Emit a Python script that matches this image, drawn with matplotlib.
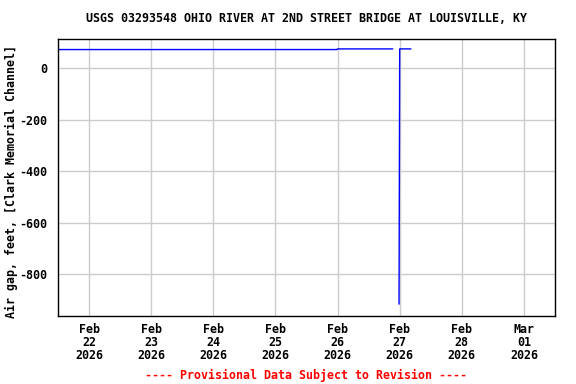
import matplotlib
matplotlib.use("Agg")
import matplotlib.pyplot as plt
import numpy as np
import pandas as pd

# gage readings (air gap, feet); NaN = gap in record
times = pd.to_datetime([
    "2026-02-21 06:00", "2026-02-25 23:45", "2026-02-26 00:00",
    "2026-02-26 21:15", "2026-02-26 22:30", "2026-02-26 23:45",
    "2026-02-27 00:00", "2026-02-27 04:15",
])
air_gap = [72.0, 72.0, 74.5, 74.5, np.nan, -916.0, 74.5, 74.5]

tick_days = pd.date_range("2026-02-22", "2026-03-01", freq="D")
tick_labels = [d.strftime("%b\n%d\n%Y") for d in tick_days]
y_ticks = [0, -200, -400, -600, -800]

title = "USGS 03293548 OHIO RIVER AT 2ND STREET BRIDGE AT LOUISVILLE, KY"
ylabel = "Air gap, feet, [Clark Memorial Channel]"
footer = "---- Provisional Data Subject to Revision ----"

plt.rcParams["font.family"] = "DejaVu Sans Mono"
plt.rcParams["font.weight"] = "bold"
fs = 8.4

fig = plt.figure(figsize=(5.76, 3.84), dpi=100)
ax = fig.add_axes([58 / 576, 1 - 316 / 384, (555 - 58) / 576, (316 - 39) / 384])

ax.plot(times, air_gap, color="blue", linewidth=1)

ax.set_xlim(pd.Timestamp("2026-02-21 12:00"), pd.Timestamp("2026-03-01 12:00"))
ax.set_ylim(-963, 113)
ax.set_xticks(tick_days)
ax.set_xticklabels(tick_labels, fontsize=fs, fontweight="bold", linespacing=0.98)
ax.set_yticks(y_ticks)
ax.set_yticklabels([str(v) for v in y_ticks], fontsize=fs, fontweight="bold")
ax.tick_params(axis="x", length=0, pad=5)
ax.tick_params(axis="y", length=0, pad=8)
ax.grid(True, color="#cccccc", linewidth=1)
ax.set_axisbelow(True)
for s in ax.spines.values():
    s.set_linewidth(1)
    s.set_color("black")

ax.set_ylabel(ylabel, fontsize=fs, fontweight="bold")
ax.yaxis.set_label_coords(-(58 - 18) / 497, (316 - 181) / 277)
fig.text(306 / 576, 1 - 19 / 384, title, ha="center", va="center",
         fontsize=fs, fontweight="bold")
fig.text(306 / 576, 1 - 375 / 384, footer, ha="center", va="center",
         fontsize=fs, fontweight="bold", color="red")

fig.savefig("out.png", dpi=100)
